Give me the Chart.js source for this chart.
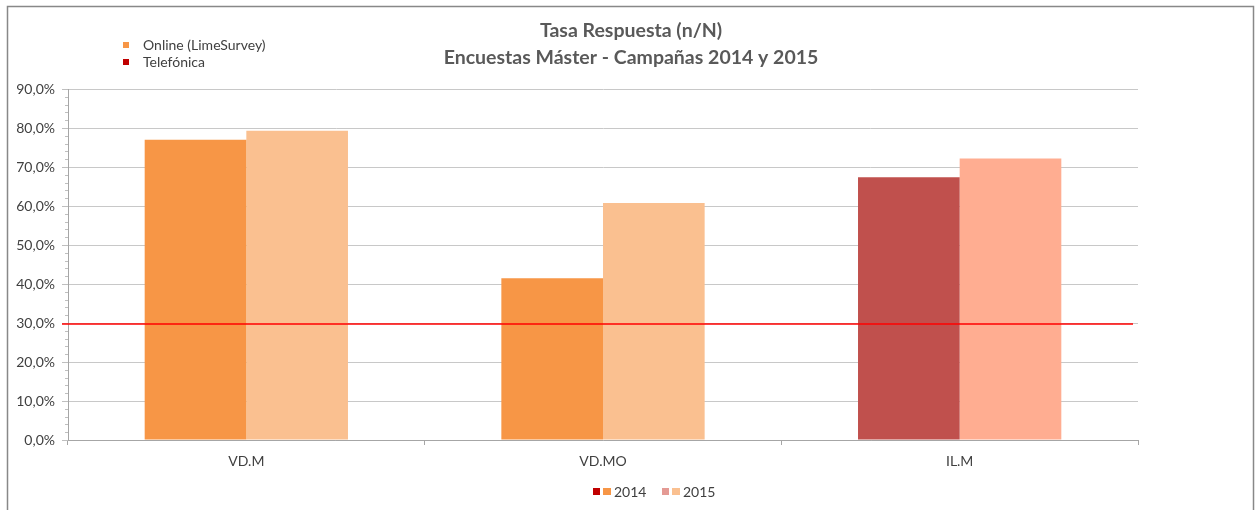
<!DOCTYPE html>
<html lang="es">
<head>
<meta charset="utf-8">
<title>Tasa Respuesta (n/N)</title>
<script src="https://cdn.jsdelivr.net/npm/chart.js@4/dist/chart.umd.min.js"></script>
<style>
    body { margin: 0; background: #fff; }
    #caja { width: 1255px; height: 510px; }
</style>
</head>
<body>
<div id="caja"><canvas id="grafico" width="1255" height="510"></canvas></div>
<script>
// Datos del gráfico
const titulos = ['Tasa Respuesta (n/N)', 'Encuestas Máster - Campañas 2014 y 2015'];
const cursos = ['VD.M', 'VD.MO', 'IL.M'];
const tasa2014 = [77.0, 41.5, 67.4];
const tasa2015 = [79.3, 60.8, 72.2];
const tipoEncuesta = ['online', 'online', 'telefonica']; // tipo por curso
const umbral = 30; // línea roja de referencia
const marcasY = [0, 10, 20, 30, 40, 50, 60, 70, 80, 90];

// Colores
const colores = {
    online2014: '#F79646',
    online2015: '#FAC090',
    tel2014: '#C0504D',
    tel2015: '#FFAD91',
    telLeyenda: '#C00000',
    telLeyenda2015: '#E49A94'
};
const fuente = 'Lato, "Open Sans", sans-serif';
const textoGris = '#404040';

const color2014 = tipoEncuesta.map(t => t === 'online' ? colores.online2014 : colores.tel2014);
const color2015 = tipoEncuesta.map(t => t === 'online' ? colores.online2015 : colores.tel2015);

function formatoPct(v) {
    return v.toFixed(1).replace('.', ',') + '%';
}

// Marco, títulos, leyendas y línea del 30%
const extras = {
    id: 'extras',
    beforeDraw(chart) {
        const ctx = chart.ctx;
        ctx.save();
        ctx.fillStyle = '#fff';
        ctx.fillRect(0, 0, chart.width, chart.height);
        ctx.restore();
    },
    afterDatasetsDraw(chart) {
        const ctx = chart.ctx;
        const area = chart.chartArea;
        const y = chart.scales.y;
        ctx.save();

        // marcas menores del eje Y
        ctx.strokeStyle = '#BFBFBF';
        ctx.lineWidth = 1;
        y.ticks.forEach(t => {
            if (t.value % 10 !== 0) {
                const py = Math.round(y.getPixelForValue(t.value)) + 0.5;
                ctx.beginPath();
                ctx.moveTo(area.left - 3, py);
                ctx.lineTo(area.left, py);
                ctx.stroke();
            }
        });

        // línea de referencia
        const yu = y.getPixelForValue(umbral) + 1;
        ctx.strokeStyle = '#FF0000';
        ctx.lineWidth = 1.5;
        ctx.beginPath();
        ctx.moveTo(area.left - 6, yu);
        ctx.lineTo(area.right - 5, yu);
        ctx.stroke();

        // marco exterior
        ctx.strokeStyle = '#888888';
        ctx.lineWidth = 1.5;
        ctx.strokeRect(7.5, 6.5, 1246, 600);

        // títulos
        ctx.fillStyle = '#595959';
        ctx.font = 'bold 19.5px ' + fuente;
        ctx.textAlign = 'center';
        ctx.textBaseline = 'middle';
        ctx.fillText(titulos[0], 631, 31);
        ctx.fillText(titulos[1], 631, 58);

        // leyenda superior
        ctx.font = '14px ' + fuente;
        ctx.textAlign = 'left';
        ctx.fillStyle = colores.online2014;
        ctx.fillRect(123, 42, 6, 6);
        ctx.fillStyle = colores.telLeyenda;
        ctx.fillRect(123, 59, 6, 6);
        ctx.fillStyle = textoGris;
        ctx.fillText('Online (LimeSurvey)', 143, 45);
        ctx.fillText('Telefónica', 143, 62);

        // leyenda inferior
        ctx.fillStyle = colores.telLeyenda;
        ctx.fillRect(593, 488, 7, 7);
        ctx.fillStyle = colores.online2014;
        ctx.fillRect(603, 488, 8, 7);
        ctx.fillStyle = colores.telLeyenda2015;
        ctx.fillRect(662, 488, 7, 7);
        ctx.fillStyle = colores.online2015;
        ctx.fillRect(672, 488, 8, 7);
        ctx.fillStyle = textoGris;
        ctx.font = '14px ' + fuente;
        ctx.fillText('2014', 614, 492);
        ctx.fillText('2015', 683, 492);

        ctx.restore();
    }
};

const ctx = document.getElementById('grafico').getContext('2d');
const grafico = new Chart(ctx, {
    type: 'bar',
    data: {
        labels: cursos,
        datasets: [{
            label: '2014',
            data: tasa2014,
            backgroundColor: color2014,
            borderWidth: 0
        },
        {
            label: '2015',
            data: tasa2015,
            backgroundColor: color2015,
            borderWidth: 0
        }]
    },
    options: {
        responsive: false,
        animation: false,
        layout: {
            padding: { top: 89, right: 117, bottom: 30, left: 0 }
        },
        datasets: {
            bar: { categoryPercentage: 0.57, barPercentage: 1.0 }
        },
        plugins: {
            legend: { display: false },
            title: { display: false },
            tooltip: { enabled: false }
        },
        scales: {
            x: {
                afterFit(scale) { scale.height = 40; },
                border: { color: '#A6A6A6', width: 1 },
                grid: {
                    offset: true,
                    drawOnChartArea: false,
                    tickLength: 5,
                    color: '#A6A6A6'
                },
                ticks: {
                    color: textoGris,
                    font: { family: fuente, size: 14 },
                    padding: 8
                }
            },
            y: {
                min: 0,
                max: 90,
                afterFit(scale) { scale.width = 68; },
                afterBuildTicks(scale) {
                    const t = [];
                    for (let v = 0; v <= 90; v += 2) t.push({ value: v });
                    scale.ticks = t;
                },
                border: { color: '#A6A6A6', width: 1 },
                grid: {
                    color: c => marcasY.includes(c.tick.value) ? '#C8C8C8' : 'rgba(0,0,0,0)',
                    tickColor: c => marcasY.includes(c.tick.value) ? '#BFBFBF' : 'rgba(0,0,0,0)',
                    tickLength: 6
                },
                ticks: {
                    autoSkip: false,
                    color: textoGris,
                    font: { family: fuente, size: 14 },
                    padding: 7,
                    callback: v => marcasY.includes(v) ? formatoPct(v) : ''
                }
            }
        }
    },
    plugins: [extras]
});
</script>
</body>
</html>
